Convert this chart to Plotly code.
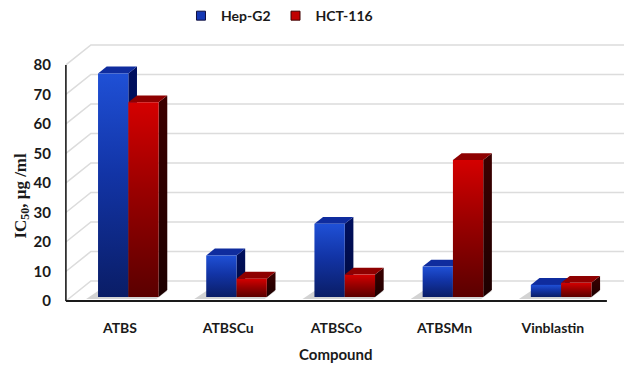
import plotly.graph_objects as go

# ---------------- data ----------------
categories = ["ATBS", "ATBSCu", "ATBSCo", "ATBSMn", "Vinblastin"]
hep_g2 = [75.8, 14.1, 24.8, 10.3, 4.1]
hct_116 = [66.0, 6.2, 7.6, 46.4, 4.8]
series_names = ["Hep-G2", "HCT-116"]
y_ticks = [0, 10, 20, 30, 40, 50, 60, 70, 80]

# ---------------- 3D geometry (data units) ----------------
WX, WY = 0.231, 6.78      # wall depth offset
B0 = 0.2 * WY             # bar plane base height
BX, BY = 0.080, 2.34      # bar depth offset
BAR_L, BAR_W = -0.203, 0.280  # bar offset from category centre, width
X0, X1 = -0.5, 4.5
YMAX = 80

FONT = "Lato"
fig = go.Figure()

def line(xs, ys, color, width):
    fig.add_trace(go.Scatter(x=xs, y=ys, mode="lines", showlegend=False,
                             hoverinfo="skip", line=dict(color=color, width=width)))

# walls / gridlines
for v in y_ticks:
    line([X0, X0 + WX, X1 + WX + 1], [v, v + WY, v + WY], "#dcdcdc", 1.6)

# styles
styles = [
    dict(front=[[0, "#0a1d66"], [0.55, "#1234a6"], [1, "#1f50d6"]],
         side=[[0, "#000a3c"], [1, "#001060"]], top="#0f2c9e", legend="#1538b4"),
    dict(front=[[0, "#5a0000"], [0.55, "#9a0000"], [1, "#d40000"]],
         side=[[0, "#1c0000"], [1, "#3c0000"]], top="#8e0000", legend="#c00000"),
]

def poly(xs, ys, fillcolor=None, grad=None):
    kw = dict(x=xs + [xs[0]], y=ys + [ys[0]], mode="lines", fill="toself",
              line=dict(width=0), showlegend=False, hoverinfo="skip")
    if grad is not None:
        kw["fillgradient"] = dict(type="vertical", colorscale=grad)
    else:
        kw["fillcolor"] = fillcolor
    fig.add_trace(go.Scatter(**kw))

# shadows
for i in range(len(categories)):
    xl = i + BAR_L
    xr = i + BAR_L + 2 * BAR_W
    poly([xl - 0.11, xr - 0.02, xr + BX, xl + BX - 0.08],
         [B0 - 0.7, B0 - 0.7, B0 + BY - 0.3, B0 + BY - 0.3],
         fillcolor="rgba(110,110,110,0.30)")

# bars
for i in range(len(categories)):
    for s, vals in enumerate([hep_g2, hct_116]):
        st = styles[s]
        xl = i + BAR_L + s * BAR_W
        xr = xl + BAR_W
        top = B0 + vals[i]
        poly([xr, xr + BX, xr + BX, xr], [B0, B0 + BY, top + BY, top], grad=st["side"])
        poly([xl, xr, xr + BX, xl + BX], [top, top, top + BY, top + BY], fillcolor=st["top"])
        poly([xl, xr, xr, xl], [B0, B0, top, top], grad=st["front"])

# front frame lines
line([X0, X0], [0, YMAX], "#1a1a1a", 1.6)
line([X0, X1], [0, 0], "#1a1a1a", 2.2)

# legend entries
for s, name in enumerate(series_names):
    fig.add_trace(go.Scatter(x=[None], y=[None], mode="markers", name=name,
                             marker=dict(symbol="square", size=9, color=styles[s]["legend"],
                                         line=dict(color="#101040" if s == 0 else "#400000", width=1))))

fig.update_layout(
    width=624, height=365,
    margin=dict(l=62, r=0, t=40, b=59),
    paper_bgcolor="white", plot_bgcolor="white",
    font=dict(family=FONT, size=14, color="#1a1a1a", weight="bold"),
    showlegend=True,
    legend=dict(orientation="h", x=0.387, xanchor="center", y=1.09, yanchor="middle",
                font=dict(family=FONT, size=14, weight="bold"), itemwidth=30,
                bgcolor="rgba(0,0,0,0)"),
    xaxis=dict(range=[-0.536, 4.658], showgrid=False, zeroline=False, showline=False,
               tickvals=list(range(len(categories))), ticktext=categories,
               ticklabelstandoff=12, tickfont=dict(family=FONT, size=14, weight="bold")),
    yaxis=dict(range=[-1.695, 88.47], showgrid=False, zeroline=False, showline=False,
               tickvals=y_ticks, ticklabelstandoff=10,
               tickfont=dict(family=FONT, size=15, weight="bold")),
    annotations=[
        dict(text="Compound", xref="paper", yref="paper", x=0.4875, y=-0.182,
             xanchor="center", yanchor="middle",
             showarrow=False, font=dict(family=FONT, size=15, weight="bold")),
        dict(text="IC<sub>50</sub>, μg /ml", xref="paper", yref="paper", x=-0.072, y=0.4135,
             xanchor="center", yanchor="middle",
             textangle=-90, showarrow=False,
             font=dict(family="Liberation Serif", size=17, weight="bold", color="#1a1a1a")),
    ],
)

fig.write_html("out.html")
